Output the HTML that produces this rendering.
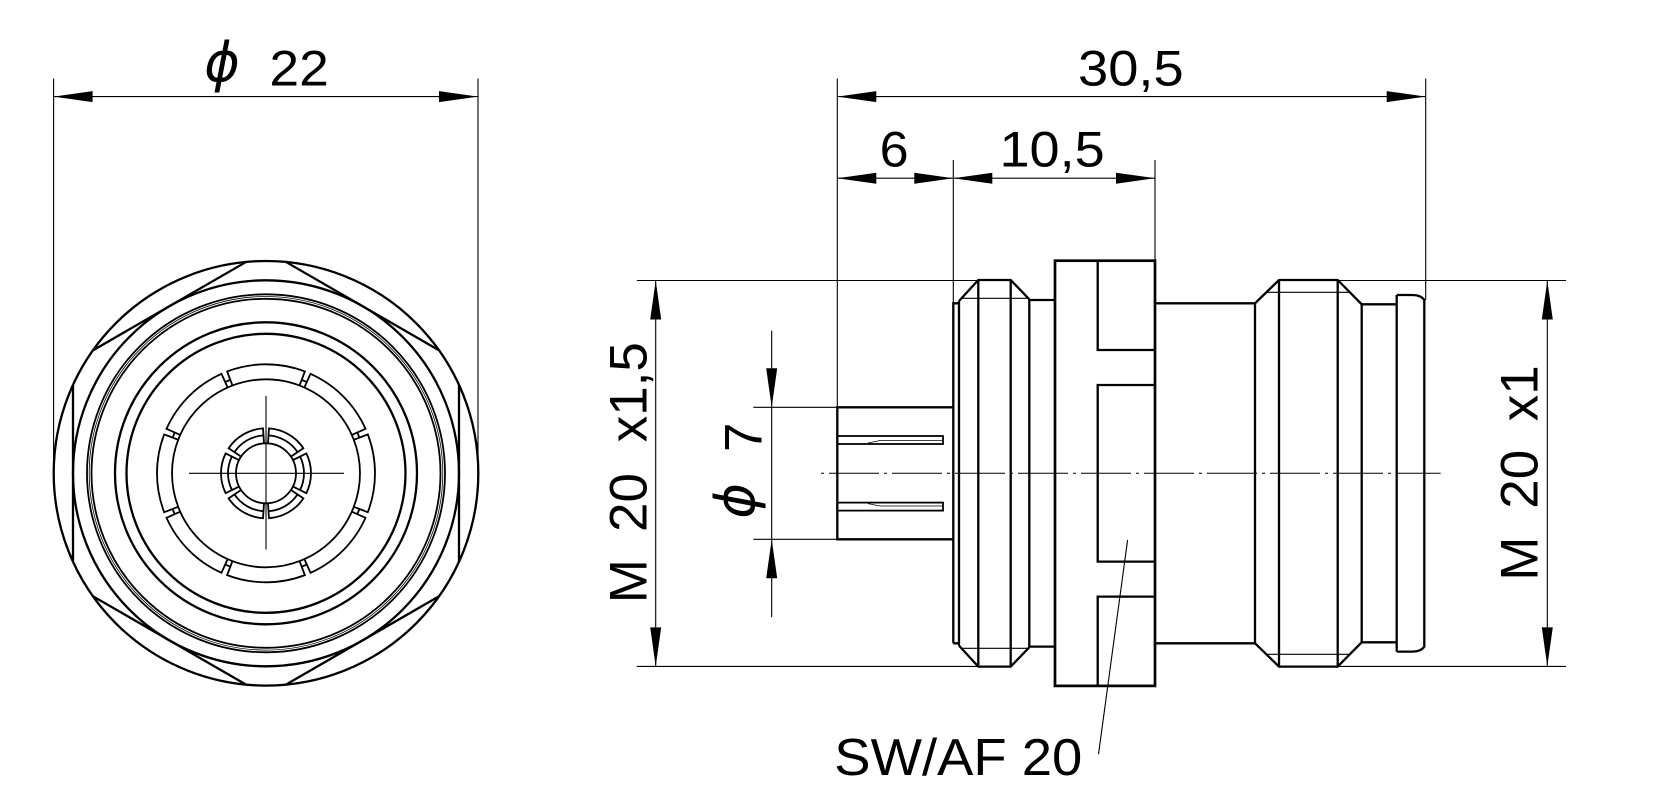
<!DOCTYPE html>
<html>
<head>
<meta charset="utf-8">
<style>
  html, body { margin: 0; padding: 0; background: #fff; }
  svg { display: block; }
  .thin { stroke: #000; stroke-width: 1.1; fill: none; }
  .thick { stroke: #000; stroke-width: 2.3; fill: none; stroke-linejoin: miter; }
  .med { stroke: #000; stroke-width: 1.8; fill: none; }
  .hair { stroke: #000; stroke-width: 0.8; fill: none; }
  .arr { fill: #000; stroke: none; }
  text { font-family: "Liberation Sans", Arial, sans-serif; fill: #000; }
  .phi { font-family: "DejaVu Sans", "Liberation Sans", sans-serif; font-style: italic; }
</style>
</head>
<body>
<svg width="1662" height="810" viewBox="0 0 1662 810" xmlns="http://www.w3.org/2000/svg">
  <rect x="0" y="0" width="1662" height="810" fill="#fff"/>

  <!-- ================= FRONT VIEW ================= -->
  <!-- dimension phi 22 -->
  <path class="thin" d="M53.6,78.5 V472 M478,78.5 V472 M53.6,96.6 H478"/>
  <polygon class="arr" points="53.6,96.6 92.6,91.1 92.6,102.1"/>
  <polygon class="arr" points="478,96.6 439,91.1 439,102.1"/>
  <text class="phi" x="222" y="81" font-size="54" text-anchor="middle">ϕ</text>
  <text x="269.4" y="85.3" font-size="50" textLength="59.4" lengthAdjust="spacingAndGlyphs">22</text>

  <g transform="translate(266 473.3)">
    <!-- outer circle -->
    <circle class="thick" cx="0" cy="0" r="212.3"/>
    <!-- hex edges clipped by circle -->
    <path class="thick" d="M-19.91,-211.36 L-173.09,-122.92
                           M19.91,-211.36 L173.09,-122.92
                           M-193,-88.4 V88.4
                           M193,-88.4 V88.4
                           M-173.09,122.9 L-19.91,211.36
                           M173.09,122.9 L19.91,211.36"/>
    <circle class="thick" cx="0" cy="0" r="193"/>
    <circle class="med" cx="0" cy="0" r="179"/>
    <circle class="hair" cx="0" cy="0" r="176.8"/>
    <circle class="med" cx="0" cy="0" r="174.5"/>
    <circle class="thick" cx="0" cy="0" r="151"/>
    <circle class="thick" cx="0" cy="0" r="139.5"/>
    <!-- segmented ring -->
    <circle class="med" cx="0" cy="0" r="94"/>
    <g>
      <g transform="rotate(0)"><path class="med" d="M87.81,-33.53 L101.83,-38.88 A109,109 0 0 1 101.83,38.88 L87.81,33.53 M93.42,35.67 L91.28,40.83"/></g>
      <g transform="rotate(45)"><path class="med" d="M87.81,-33.53 L101.83,-38.88 A109,109 0 0 1 101.83,38.88 L87.81,33.53 M93.42,35.67 L91.28,40.83"/></g>
      <g transform="rotate(90)"><path class="med" d="M87.81,-33.53 L101.83,-38.88 A109,109 0 0 1 101.83,38.88 L87.81,33.53 M93.42,35.67 L91.28,40.83"/></g>
      <g transform="rotate(135)"><path class="med" d="M87.81,-33.53 L101.83,-38.88 A109,109 0 0 1 101.83,38.88 L87.81,33.53 M93.42,35.67 L91.28,40.83"/></g>
      <g transform="rotate(180)"><path class="med" d="M87.81,-33.53 L101.83,-38.88 A109,109 0 0 1 101.83,38.88 L87.81,33.53 M93.42,35.67 L91.28,40.83"/></g>
      <g transform="rotate(225)"><path class="med" d="M87.81,-33.53 L101.83,-38.88 A109,109 0 0 1 101.83,38.88 L87.81,33.53 M93.42,35.67 L91.28,40.83"/></g>
      <g transform="rotate(270)"><path class="med" d="M87.81,-33.53 L101.83,-38.88 A109,109 0 0 1 101.83,38.88 L87.81,33.53 M93.42,35.67 L91.28,40.83"/></g>
      <g transform="rotate(315)"><path class="med" d="M87.81,-33.53 L101.83,-38.88 A109,109 0 0 1 101.83,38.88 L87.81,33.53 M93.42,35.67 L91.28,40.83"/></g>
    </g>
    <!-- small contact ring -->
    <circle class="med" cx="0" cy="0" r="30"/>
    <g>
      <g transform="rotate(0)"><path class="med" d="M26.92,-13.25 L40.37,-19.87 A45,45 0 0 1 40.37,19.87 L26.92,13.25 M34.09,-16.78 A38,38 0 0 1 34.09,16.78"/></g>
      <g transform="rotate(60)"><path class="med" d="M26.92,-13.25 L40.37,-19.87 A45,45 0 0 1 40.37,19.87 L26.92,13.25 M34.09,-16.78 A38,38 0 0 1 34.09,16.78"/></g>
      <g transform="rotate(120)"><path class="med" d="M26.92,-13.25 L40.37,-19.87 A45,45 0 0 1 40.37,19.87 L26.92,13.25 M34.09,-16.78 A38,38 0 0 1 34.09,16.78"/></g>
      <g transform="rotate(180)"><path class="med" d="M26.92,-13.25 L40.37,-19.87 A45,45 0 0 1 40.37,19.87 L26.92,13.25 M34.09,-16.78 A38,38 0 0 1 34.09,16.78"/></g>
      <g transform="rotate(240)"><path class="med" d="M26.92,-13.25 L40.37,-19.87 A45,45 0 0 1 40.37,19.87 L26.92,13.25 M34.09,-16.78 A38,38 0 0 1 34.09,16.78"/></g>
      <g transform="rotate(300)"><path class="med" d="M26.92,-13.25 L40.37,-19.87 A45,45 0 0 1 40.37,19.87 L26.92,13.25 M34.09,-16.78 A38,38 0 0 1 34.09,16.78"/></g>
    </g>
    <!-- crosshair -->
    <path class="thin" d="M-77,0 H78 M0,-77.3 V76.2"/>
  </g>

  <!-- ================= SIDE VIEW ================= -->
  <!-- centerline -->
  <path d="M821,473.3 H1440.7" stroke="#000" stroke-width="1" fill="none" stroke-dasharray="3 5 50 5"/>

  <!-- pins -->
  <path class="thick" d="M953.3,407.3 H837.3 V539.3 H953.3"/>
  <rect class="med" x="837.3" y="436" width="105.7" height="8"/>
  <rect class="med" x="837.3" y="502.6" width="105.7" height="8"/>
  <path class="hair" d="M868,443 L880,440.5 H943 M868,503.6 L880,506 H943"/>

  <!-- first thread (M20x1,5) -->
  <path class="thick" d="M953.3,643.3 V303.3 H959 M953.3,643.3 H959"/>
  <path class="thick" d="M959,301 V645.6"/>
  <path class="thick" d="M959,301 L978.3,280 H1010.7 L1029.3,299.3"/>
  <path class="thick" d="M959,645.6 L978.3,666.6 H1010.7 L1029.3,647.3"/>
  <path class="thin" d="M961.5,298.3 H1028.3 M961.5,648.3 H1028.3"/>
  <path class="thick" d="M978.3,280 V666.6 M1010.7,280 V666.6 M1029.3,299.3 V647.3"/>
  <path class="thick" d="M1029.3,300 H1055 M1029.3,646.6 H1055"/>

  <!-- hex body -->
  <rect x="1055" y="260.7" width="100" height="425.2" fill="none" stroke="#000" stroke-width="2.7"/>
  <path class="thick" d="M1155,350 H1097.7 V260.7 M1155,385 H1097.7 V561.6 H1155 M1155,596.6 H1097.7 V685.9"/>

  <!-- right body + second thread -->
  <path class="thick" d="M1155,303.3 H1255 L1279,280 H1337.7 L1361.7,304.3 H1396.7"/>
  <path class="thick" d="M1155,643.3 H1255 L1279,666.6 H1337.7 L1361.7,642.3 H1396.7"/>
  <path class="thick" d="M1255,303.3 V643.3 M1279,280 V666.6 M1337.7,280 V666.6 M1361.7,304.3 V642.3 M1396.7,295 V651.6"/>
  <path class="thin" d="M1266.3,292.3 H1349.8 M1266.3,654.3 H1349.8"/>
  <path class="thick" d="M1396.7,295 H1412 Q1421,295 1424.3,300 V646.6 Q1421,651.6 1412,651.6 H1396.7"/>

  <!-- extension lines -->
  <path class="thin" d="M636.8,280.5 H978.3 M636.8,666.4 H978.3
                        M1337.7,280.5 H1566 M1337.7,666.4 H1566
                        M837.3,78.5 V407.3
                        M1425.7,78.5 V300
                        M953.3,160 V303.3
                        M1155,160 V260.7
                        M753.3,407.3 H837.3 M753.3,539.3 H837.3"/>

  <!-- dimension 30,5 -->
  <path class="thin" d="M837.3,96.6 H1425.7"/>
  <polygon class="arr" points="837.3,96.6 876.3,91.1 876.3,102.1"/>
  <polygon class="arr" points="1425.7,96.6 1386.7,91.1 1386.7,102.1"/>
  <text x="1078" y="85.3" font-size="50" textLength="105.7" lengthAdjust="spacingAndGlyphs">30,5</text>

  <!-- dimension 6 / 10,5 -->
  <path class="thin" d="M837.3,178.2 H1155"/>
  <polygon class="arr" points="837.3,178.2 876.3,172.7 876.3,183.7"/>
  <polygon class="arr" points="953.3,178.2 914.3,172.7 914.3,183.7"/>
  <polygon class="arr" points="953.3,178.2 992.3,172.7 992.3,183.7"/>
  <polygon class="arr" points="1155,178.2 1116,172.7 1116,183.7"/>
  <text x="879.7" y="166.7" font-size="50" textLength="29" lengthAdjust="spacingAndGlyphs">6</text>
  <text x="999.5" y="166.7" font-size="50" textLength="105.2" lengthAdjust="spacingAndGlyphs">10,5</text>

  <!-- dimension M 20 x1,5 -->
  <path class="thin" d="M655.7,280.5 V666.4"/>
  <polygon class="arr" points="655.7,280.5 650.2,319.5 661.2,319.5"/>
  <polygon class="arr" points="655.7,666.4 650.2,627.4 661.2,627.4"/>
  <text transform="translate(646.7 599.3) rotate(-90)" font-size="53"><tspan x="-4" y="0">M</tspan><tspan x="67.3" y="0">20</tspan><tspan x="157" y="0">x1,5</tspan></text>

  <!-- dimension phi 7 -->
  <path class="thin" d="M771.7,330.6 V617.3"/>
  <polygon class="arr" points="771.7,407.3 766.2,368.3 777.2,368.3"/>
  <polygon class="arr" points="771.7,539.3 766.2,578.3 777.2,578.3"/>
  <text transform="translate(761.7 450) rotate(-90)" font-size="53" x="-2" y="0">7</text>
  <text class="phi" transform="translate(754 500.8) rotate(-90)" font-size="54" x="0" y="0" text-anchor="middle">ϕ</text>

  <!-- dimension M 20 x1 -->
  <path class="thin" d="M1547.3,280.5 V666.4"/>
  <polygon class="arr" points="1547.3,280.5 1541.8,319.5 1552.8,319.5"/>
  <polygon class="arr" points="1547.3,666.4 1541.8,627.4 1552.8,627.4"/>
  <text transform="translate(1537.3 576.7) rotate(-90)" font-size="53"><tspan x="-4" y="0">M</tspan><tspan x="68" y="0">20</tspan><tspan x="155.5" y="0">x1</tspan></text>

  <!-- SW/AF leader -->
  <path class="thin" d="M1098.5,754.2 L1127.6,540"/>
  <text x="834.3" y="775" font-size="52" textLength="248" lengthAdjust="spacingAndGlyphs">SW/AF 20</text>
</svg>
</body>
</html>
